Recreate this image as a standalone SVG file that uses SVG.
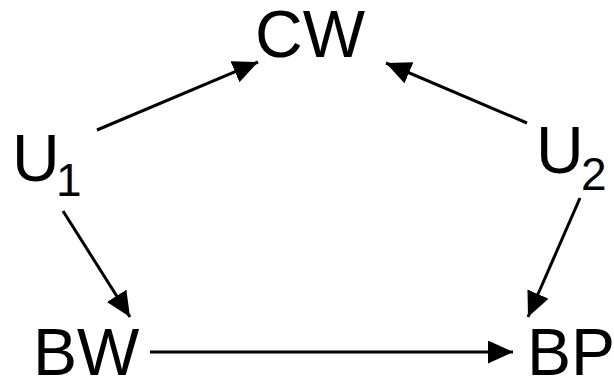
<svg xmlns="http://www.w3.org/2000/svg" width="614" height="379" viewBox="0 0 614 379">
<style>
.lbl{font-family:"Liberation Sans",Arial,sans-serif;font-size:66px;fill:#000}
.sub{font-size:46px}
.edge{stroke:#000;stroke-width:3;fill:none;marker-end:url(#ah)}
</style>
<defs>
<marker id="ah" markerUnits="userSpaceOnUse" markerWidth="26" markerHeight="24" refX="25" refY="11.5" orient="auto">
<path d="M0,0 L25,11.5 L0,23 z" fill="#000"/>
</marker>
</defs>
<rect width="614" height="379" fill="#fff"/>
<g id="connectors">
<line class="edge" x1="97" y1="130" x2="258" y2="62"/>
<line class="edge" x1="527" y1="123" x2="386" y2="63"/>
<line class="edge" x1="63" y1="211" x2="130" y2="317"/>
<line class="edge" x1="580" y1="198" x2="528" y2="317"/>
<line class="edge" x1="150" y1="352" x2="513" y2="352"/>
</g>
<g id="CW"><text class="lbl" x="255" y="57">CW</text></g>
<g id="U1"><text class="lbl" x="12" y="181">U<tspan class="sub" x="56" y="196">1</tspan></text></g>
<g id="U2"><text class="lbl" x="536" y="173">U<tspan class="sub" x="581" y="190">2</tspan></text></g>
<g id="BW"><text class="lbl" x="33" y="375">BW</text></g>
<g id="BP"><text class="lbl" x="527" y="375">BP</text></g>
</svg>
